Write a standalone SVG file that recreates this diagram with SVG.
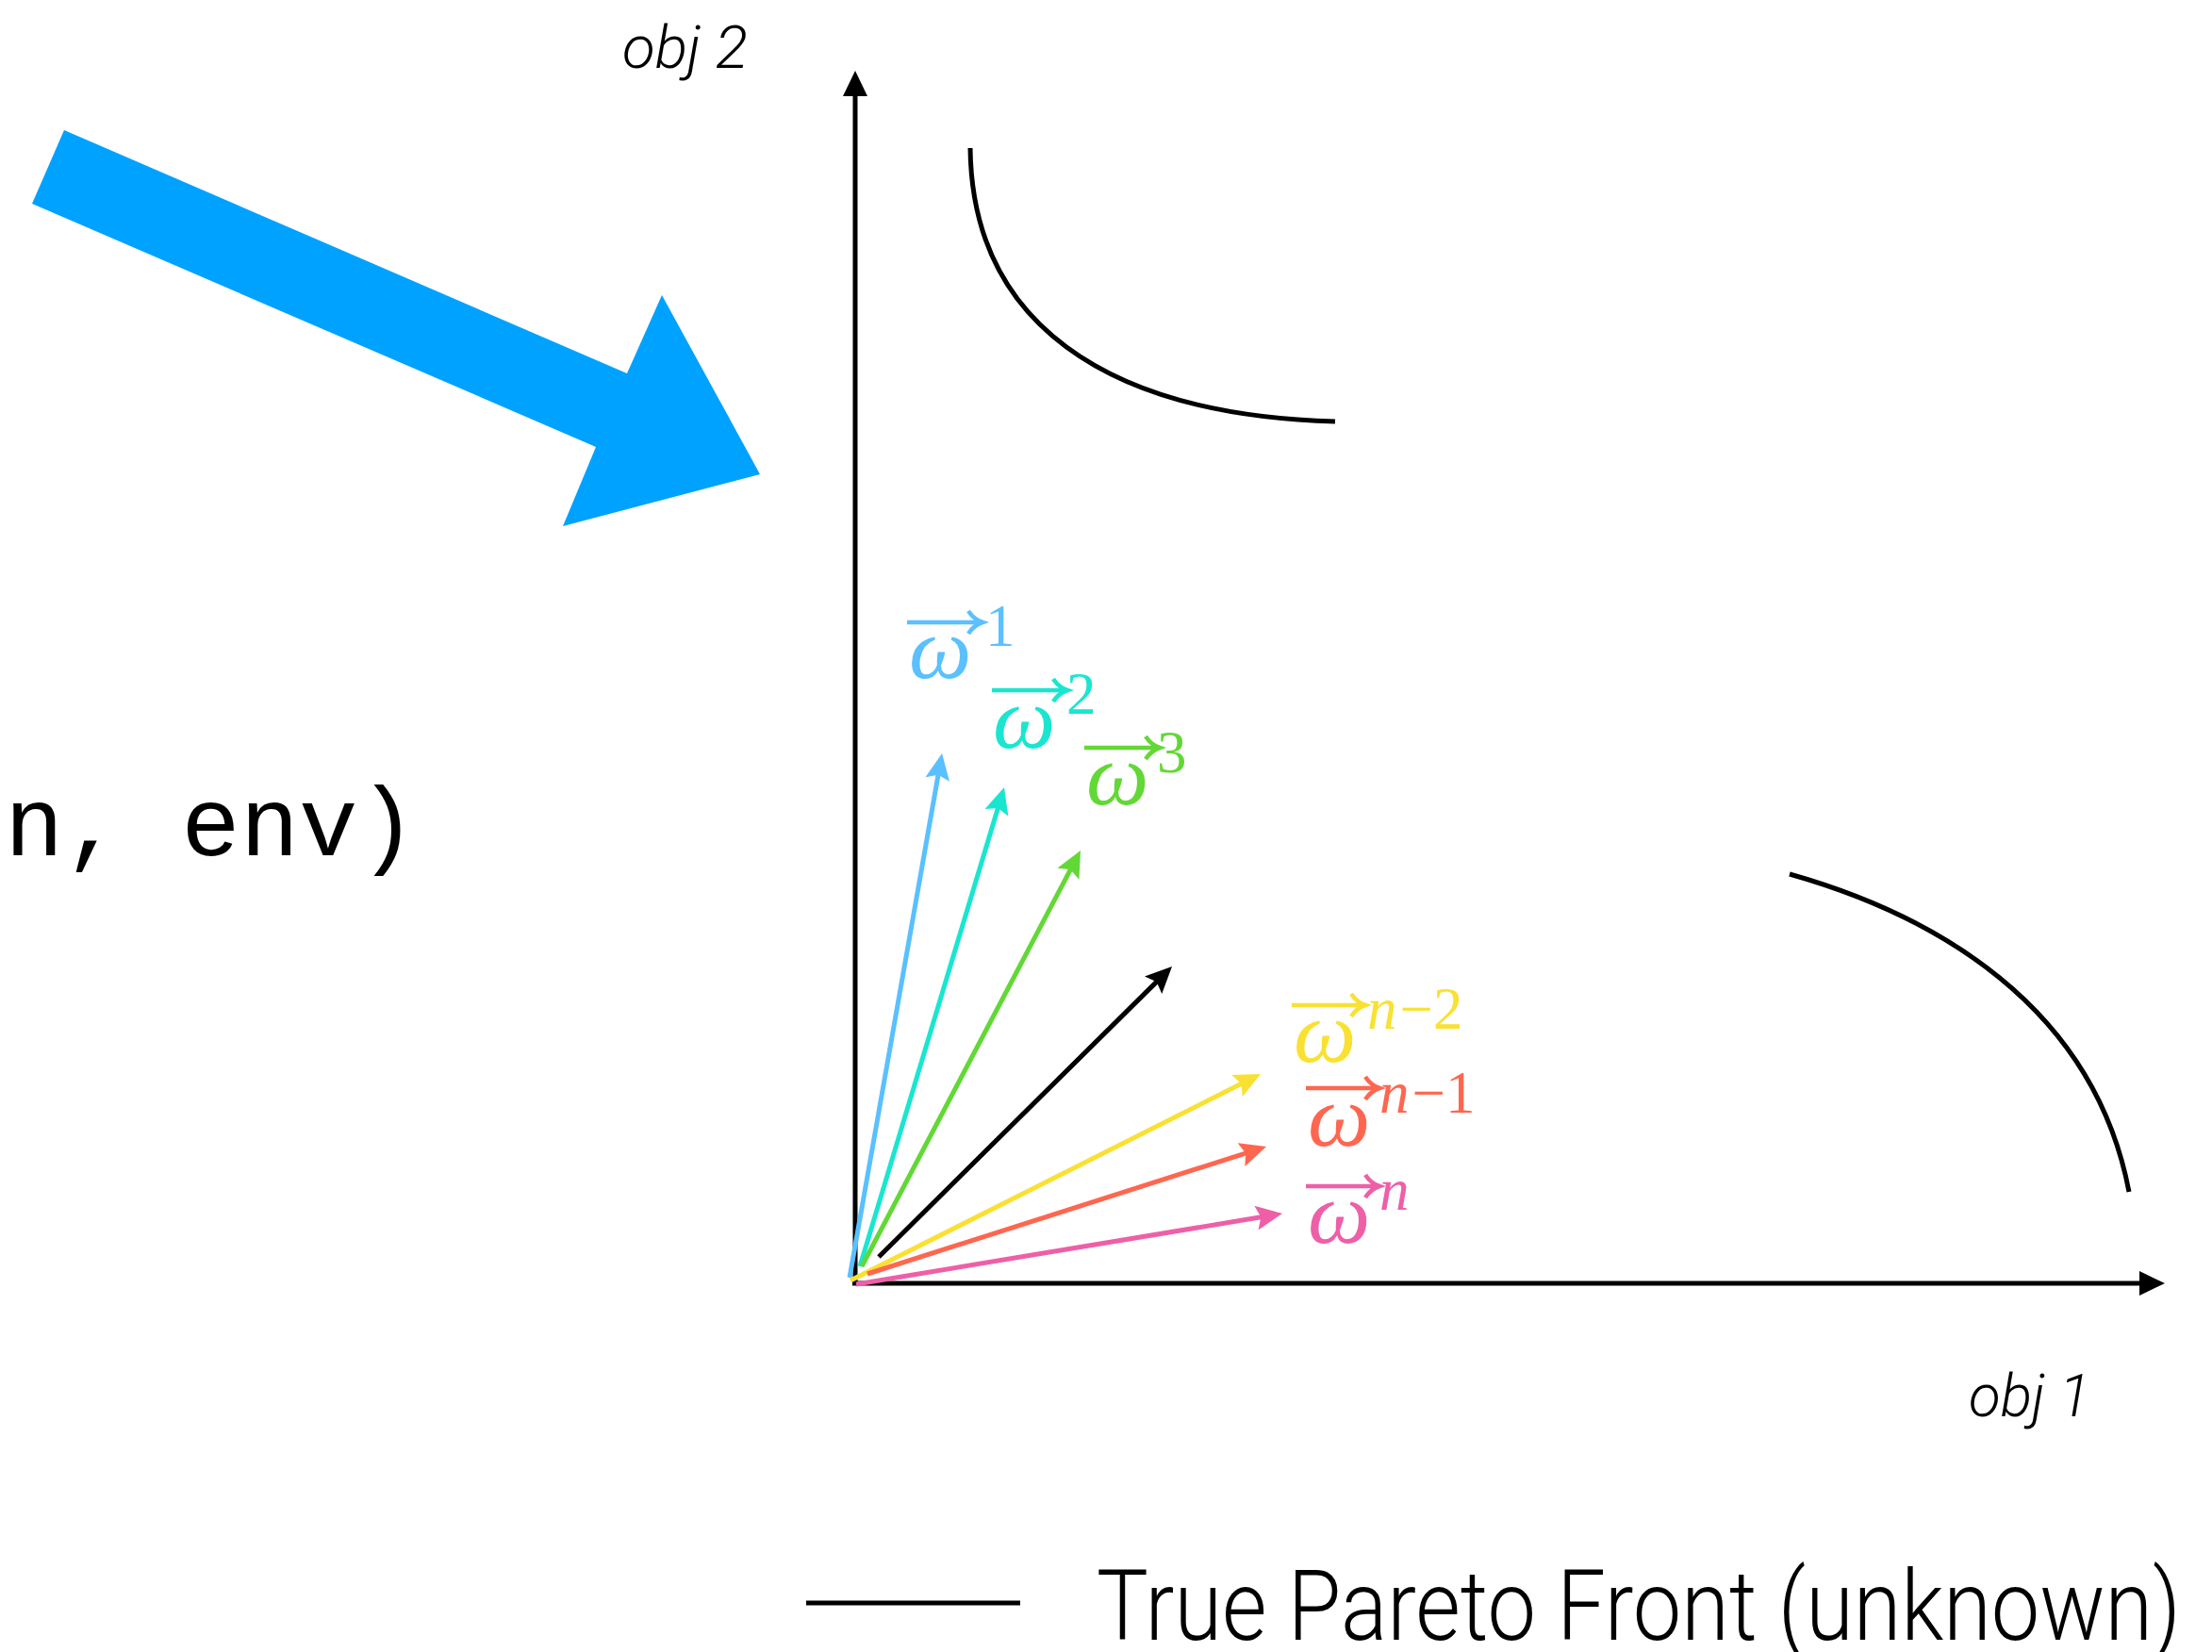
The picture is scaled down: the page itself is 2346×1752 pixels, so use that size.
<svg xmlns="http://www.w3.org/2000/svg" width="2346" height="1752" viewBox="0 0 2346 1752">
<style>
.axis{stroke:#000;stroke-width:5;fill:none}
.front{stroke:#000;stroke-width:5;fill:none}
.vec{stroke-width:5;fill:none;stroke-linecap:butt}
.lbl{font-family:"Helvetica Neue",Roboto,"Liberation Sans",sans-serif;font-style:italic;font-weight:300;font-size:62px;fill:#000}
.om{font-family:"Liberation Serif","Times New Roman",serif;font-style:italic;font-size:94px}
.sup{font-family:"Liberation Serif","Times New Roman",serif;font-size:63px}
.it{font-style:italic}
.over{stroke-width:4.5;fill:none;stroke-linecap:butt}
.code{font-family:"Courier New",Courier,"Nimbus Mono PS","Liberation Mono",monospace;font-size:104px;fill:#000}
.legend{font-family:"Helvetica Neue",Roboto,"Liberation Sans",sans-serif;font-weight:300;font-size:104px;fill:#000}
</style>
<defs>
<marker id="hk" markerUnits="userSpaceOnUse" markerWidth="27" markerHeight="26" refX="2" refY="13" orient="auto" viewBox="0 0 27 26"><path d="M0,0 L27,13 L0,26 z" fill="#000"/></marker>
<marker id="h0" markerUnits="userSpaceOnUse" markerWidth="28" markerHeight="26" refX="8" refY="13" orient="auto" viewBox="0 0 28 26"><path d="M0,0 L28,13 L0,26 L5,13 z" fill="#000"/></marker>
<marker id="h1" markerUnits="userSpaceOnUse" markerWidth="28" markerHeight="26" refX="8" refY="13" orient="auto" viewBox="0 0 28 26"><path d="M0,0 L28,13 L0,26 L5,13 z" fill="#5AC0FF"/></marker>
<marker id="h2" markerUnits="userSpaceOnUse" markerWidth="28" markerHeight="26" refX="8" refY="13" orient="auto" viewBox="0 0 28 26"><path d="M0,0 L28,13 L0,26 L5,13 z" fill="#1AE6D0"/></marker>
<marker id="h3" markerUnits="userSpaceOnUse" markerWidth="28" markerHeight="26" refX="8" refY="13" orient="auto" viewBox="0 0 28 26"><path d="M0,0 L28,13 L0,26 L5,13 z" fill="#62D836"/></marker>
<marker id="h4" markerUnits="userSpaceOnUse" markerWidth="28" markerHeight="26" refX="8" refY="13" orient="auto" viewBox="0 0 28 26"><path d="M0,0 L28,13 L0,26 L5,13 z" fill="#F9E133"/></marker>
<marker id="h5" markerUnits="userSpaceOnUse" markerWidth="28" markerHeight="26" refX="8" refY="13" orient="auto" viewBox="0 0 28 26"><path d="M0,0 L28,13 L0,26 L5,13 z" fill="#FF6650"/></marker>
<marker id="h6" markerUnits="userSpaceOnUse" markerWidth="28" markerHeight="26" refX="8" refY="13" orient="auto" viewBox="0 0 28 26"><path d="M0,0 L28,13 L0,26 L5,13 z" fill="#EE5FA8"/></marker>
</defs>
<rect width="2346" height="1752" fill="#fff"/>

<g id="big-arrow">
<polygon points="68,138 665,396 702,313 806,503 597,558 632,474 34,216" fill="#00A2FF"/>
</g>

<g id="code-text">
<text class="code" x="5" y="907">n, env)</text>
</g>

<g id="axes">
<line class="axis" x1="907" y1="1363" x2="907" y2="100" marker-end="url(#hk)"/>
<line class="axis" x1="904" y1="1361" x2="2271" y2="1361" marker-end="url(#hk)"/>
<text class="lbl" x="660" y="72" textLength="133" lengthAdjust="spacingAndGlyphs">obj 2</text>
<text class="lbl" x="2088" y="1502" textLength="129" lengthAdjust="spacingAndGlyphs">obj 1</text>
</g>

<g id="pareto-front">
<path class="front" d="M1029,157 C1031,340 1170,440 1416,447"/>
<path class="front" d="M1898,927 C2050,970 2220,1065 2258,1264"/>
</g>

<g id="connectors">
<line class="vec" stroke="#5AC0FF" x1="901" y1="1355" x2="995.6" y2="818.7" marker-end="url(#h1)"/>
<line class="vec" stroke="#1AE6D0" x1="912" y1="1343" x2="1059.2" y2="854.2" marker-end="url(#h2)"/>
<line class="vec" stroke="#62D836" x1="914" y1="1343" x2="1136.7" y2="919.7" marker-end="url(#h3)"/>
<line class="vec" stroke="#000" x1="932" y1="1333" x2="1228.8" y2="1039.1" marker-end="url(#h0)"/>
<line class="vec" stroke="#F9E133" x1="902" y1="1358" x2="1319.1" y2="1148.0" marker-end="url(#h4)"/>
<line class="vec" stroke="#FF6650" x1="920" y1="1351" x2="1324.0" y2="1222.1" marker-end="url(#h5)"/>
<line class="vec" stroke="#EE5FA8" x1="908" y1="1362" x2="1340.3" y2="1290.3" marker-end="url(#h6)"/>
</g>

<g id="w1" fill="#5AC0FF">
<path class="over" stroke="#5AC0FF" d="M962,660 H1040 M1027,648 Q1033,657 1042,660 Q1033,663 1027,672"/>
<text class="om" x="964" y="719">ω</text>
<text class="sup" x="1045" y="685">1</text>
</g>
<g id="w2" fill="#1AE6D0">
<path class="over" stroke="#1AE6D0" d="M1052,732 H1130 M1117,720 Q1123,729 1132,732 Q1123,735 1117,744"/>
<text class="om" x="1053" y="793">ω</text>
<text class="sup" x="1131" y="757">2</text>
</g>
<g id="w3" fill="#62D836">
<path class="over" stroke="#62D836" d="M1150,793 H1228 M1215,781 Q1221,790 1230,793 Q1221,796 1215,805"/>
<text class="om" x="1152" y="853">ω</text>
<text class="sup" x="1227" y="819">3</text>
</g>
<g id="wn2" fill="#F9E133">
<path class="over" stroke="#F9E133" d="M1370,1066 H1446 M1433,1054 Q1439,1063 1448,1066 Q1439,1069 1433,1078"/>
<text class="om" x="1372" y="1126">ω</text>
<text class="sup" x="1450" y="1091"><tspan class="it">n</tspan><tspan dx="3">−2</tspan></text>
</g>
<g id="wn1" fill="#FF6650">
<path class="over" stroke="#FF6650" d="M1385,1154 H1461 M1448,1142 Q1454,1151 1463,1154 Q1454,1157 1448,1166"/>
<text class="om" x="1387" y="1215">ω</text>
<text class="sup" x="1463" y="1180"><tspan class="it">n</tspan><tspan dx="3">−1</tspan></text>
</g>
<g id="wn" fill="#EE5FA8">
<path class="over" stroke="#EE5FA8" d="M1385,1258 H1461 M1448,1246 Q1454,1255 1463,1258 Q1454,1261 1448,1270"/>
<text class="om" x="1387" y="1318">ω</text>
<text class="sup it" x="1463" y="1283">n</text>
</g>

<g id="legend">
<line x1="855" y1="1700" x2="1082" y2="1700" stroke="#000" stroke-width="5"/>
<text class="legend" x="1163" y="1739" textLength="1150" lengthAdjust="spacingAndGlyphs">True Pareto Front (unknown)</text>
</g>
</svg>
